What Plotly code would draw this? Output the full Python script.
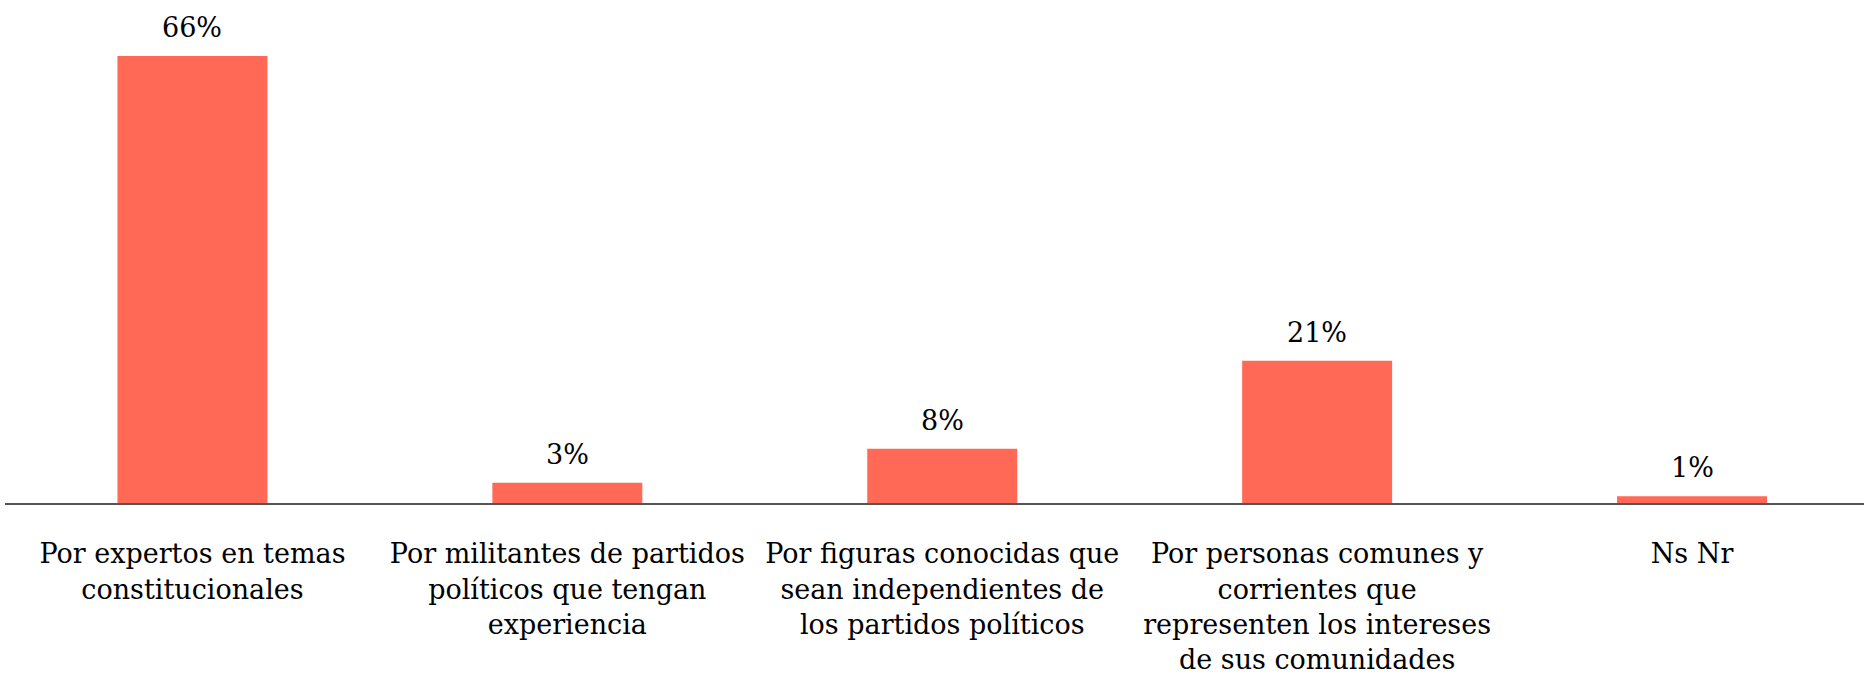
import plotly.graph_objects as go

categories = [
    "Por expertos en temas<br>constitucionales",
    "Por militantes de partidos<br>políticos que tengan<br>experiencia",
    "Por figuras conocidas que<br>sean independientes de<br>los partidos políticos",
    "Por personas comunes y<br>corrientes que<br>representen los intereses<br>de sus comunidades",
    "Ns Nr",
]
values = [66, 3, 8, 21, 1]
value_labels = ["66%", "3%", "8%", "21%", "1%"]

BAR_COLOR = "#ff6955"
FONT = "DejaVu Serif"
FONT_SIZE = 27

x_pos = list(range(len(categories)))

fig = go.Figure(
    go.Bar(
        x=x_pos,
        y=values,
        width=0.4,
        marker=dict(color=BAR_COLOR, line=dict(width=0)),
        hoverinfo="skip",
    )
)

for xi, v, lab in zip(x_pos, values, value_labels):
    fig.add_annotation(
        x=xi, y=v, text=lab, showarrow=False,
        yanchor="bottom", yshift=11,
        font=dict(family=FONT, size=FONT_SIZE, color="#000000"),
    )

fig.update_layout(
    width=1864,
    height=692,
    margin=dict(l=4.5, r=0, t=20, b=189),
    plot_bgcolor="white",
    paper_bgcolor="white",
    showlegend=False,
    font=dict(family=FONT, size=FONT_SIZE, color="#000000"),
    xaxis=dict(
        range=[-0.5, 4.4587],
        tickmode="array",
        tickvals=x_pos,
        ticktext=categories,
        showgrid=False,
        zeroline=False,
        showline=True,
        linecolor="#555555",
        linewidth=2,
        ticks="",
        ticklabelstandoff=26,
        tickfont=dict(family=FONT, size=FONT_SIZE, color="#000000"),
        fixedrange=True,
    ),
    yaxis=dict(
        range=[0, 71.3],
        visible=False,
        fixedrange=True,
    ),
)

fig.write_html("out.html")
